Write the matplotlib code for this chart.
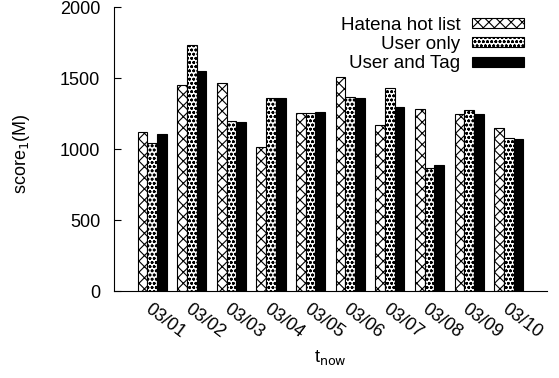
import numpy as np
import matplotlib as mpl
mpl.use('Agg')
import matplotlib.pyplot as plt

mpl.rc('font', family=['Liberation Sans', 'DejaVu Sans'], size=13)
mpl.rcParams['hatch.linewidth'] = 0.8

dates = ['03/01', '03/02', '03/03', '03/04', '03/05',
         '03/06', '03/07', '03/08', '03/09', '03/10']
hatena = [1120, 1451, 1465, 1014, 1254, 1507, 1169, 1282, 1246, 1148]
user_only = [1042, 1732, 1197, 1359, 1254, 1366, 1430, 866, 1275, 1077]
user_tag = [1106, 1549, 1190, 1359, 1261, 1359, 1296, 887, 1246, 1070]

fig = plt.figure(figsize=(5.59, 3.78), dpi=100)
ax = fig.add_axes([0.204, 0.230, 0.775, 0.751])

x = np.arange(1, len(dates) + 1)
w = 0.245
ax.bar(x - w, hatena, w, color='white', edgecolor='black', hatch='xxx',
       linewidth=0.8, label='Hatena hot list')
ax.bar(x, user_only, w, color='white', edgecolor='black', hatch='oooo',
       linewidth=0.8, label='User only')
ax.bar(x + w, user_tag, w, color='black', edgecolor='black',
       linewidth=0.8, label='User and Tag')

ax.set_xlim(0.04, 10.97)
ax.set_ylim(0, 2000)
ax.set_yticks([0, 500, 1000, 1500, 2000])
ax.tick_params(axis='y', direction='in', length=5, pad=10)
ax.set_xticks(x)
ax.set_xticklabels(dates, rotation=-37, ha='left', va='top',
                   rotation_mode='anchor', fontsize=13)
ax.tick_params(axis='x', length=0, pad=7)
ax.spines['top'].set_visible(False)
ax.spines['right'].set_visible(False)

ax.set_ylabel('score$_1$(M)')
ax.yaxis.set_label_coords(-0.19, 0.485)
ax.set_xlabel('t$_{\\mathrm{now}}$')
ax.xaxis.set_label_coords(0.5, -0.2)

ax.legend(loc='upper right', bbox_to_anchor=(0.947, 0.967), frameon=False,
          markerfirst=False, handlelength=2.8, handleheight=0.45,
          handletextpad=0.6, labelspacing=0.13, borderaxespad=0.0,
          borderpad=0.0, fontsize=13.5)

fig.savefig('out.png', dpi=100)
